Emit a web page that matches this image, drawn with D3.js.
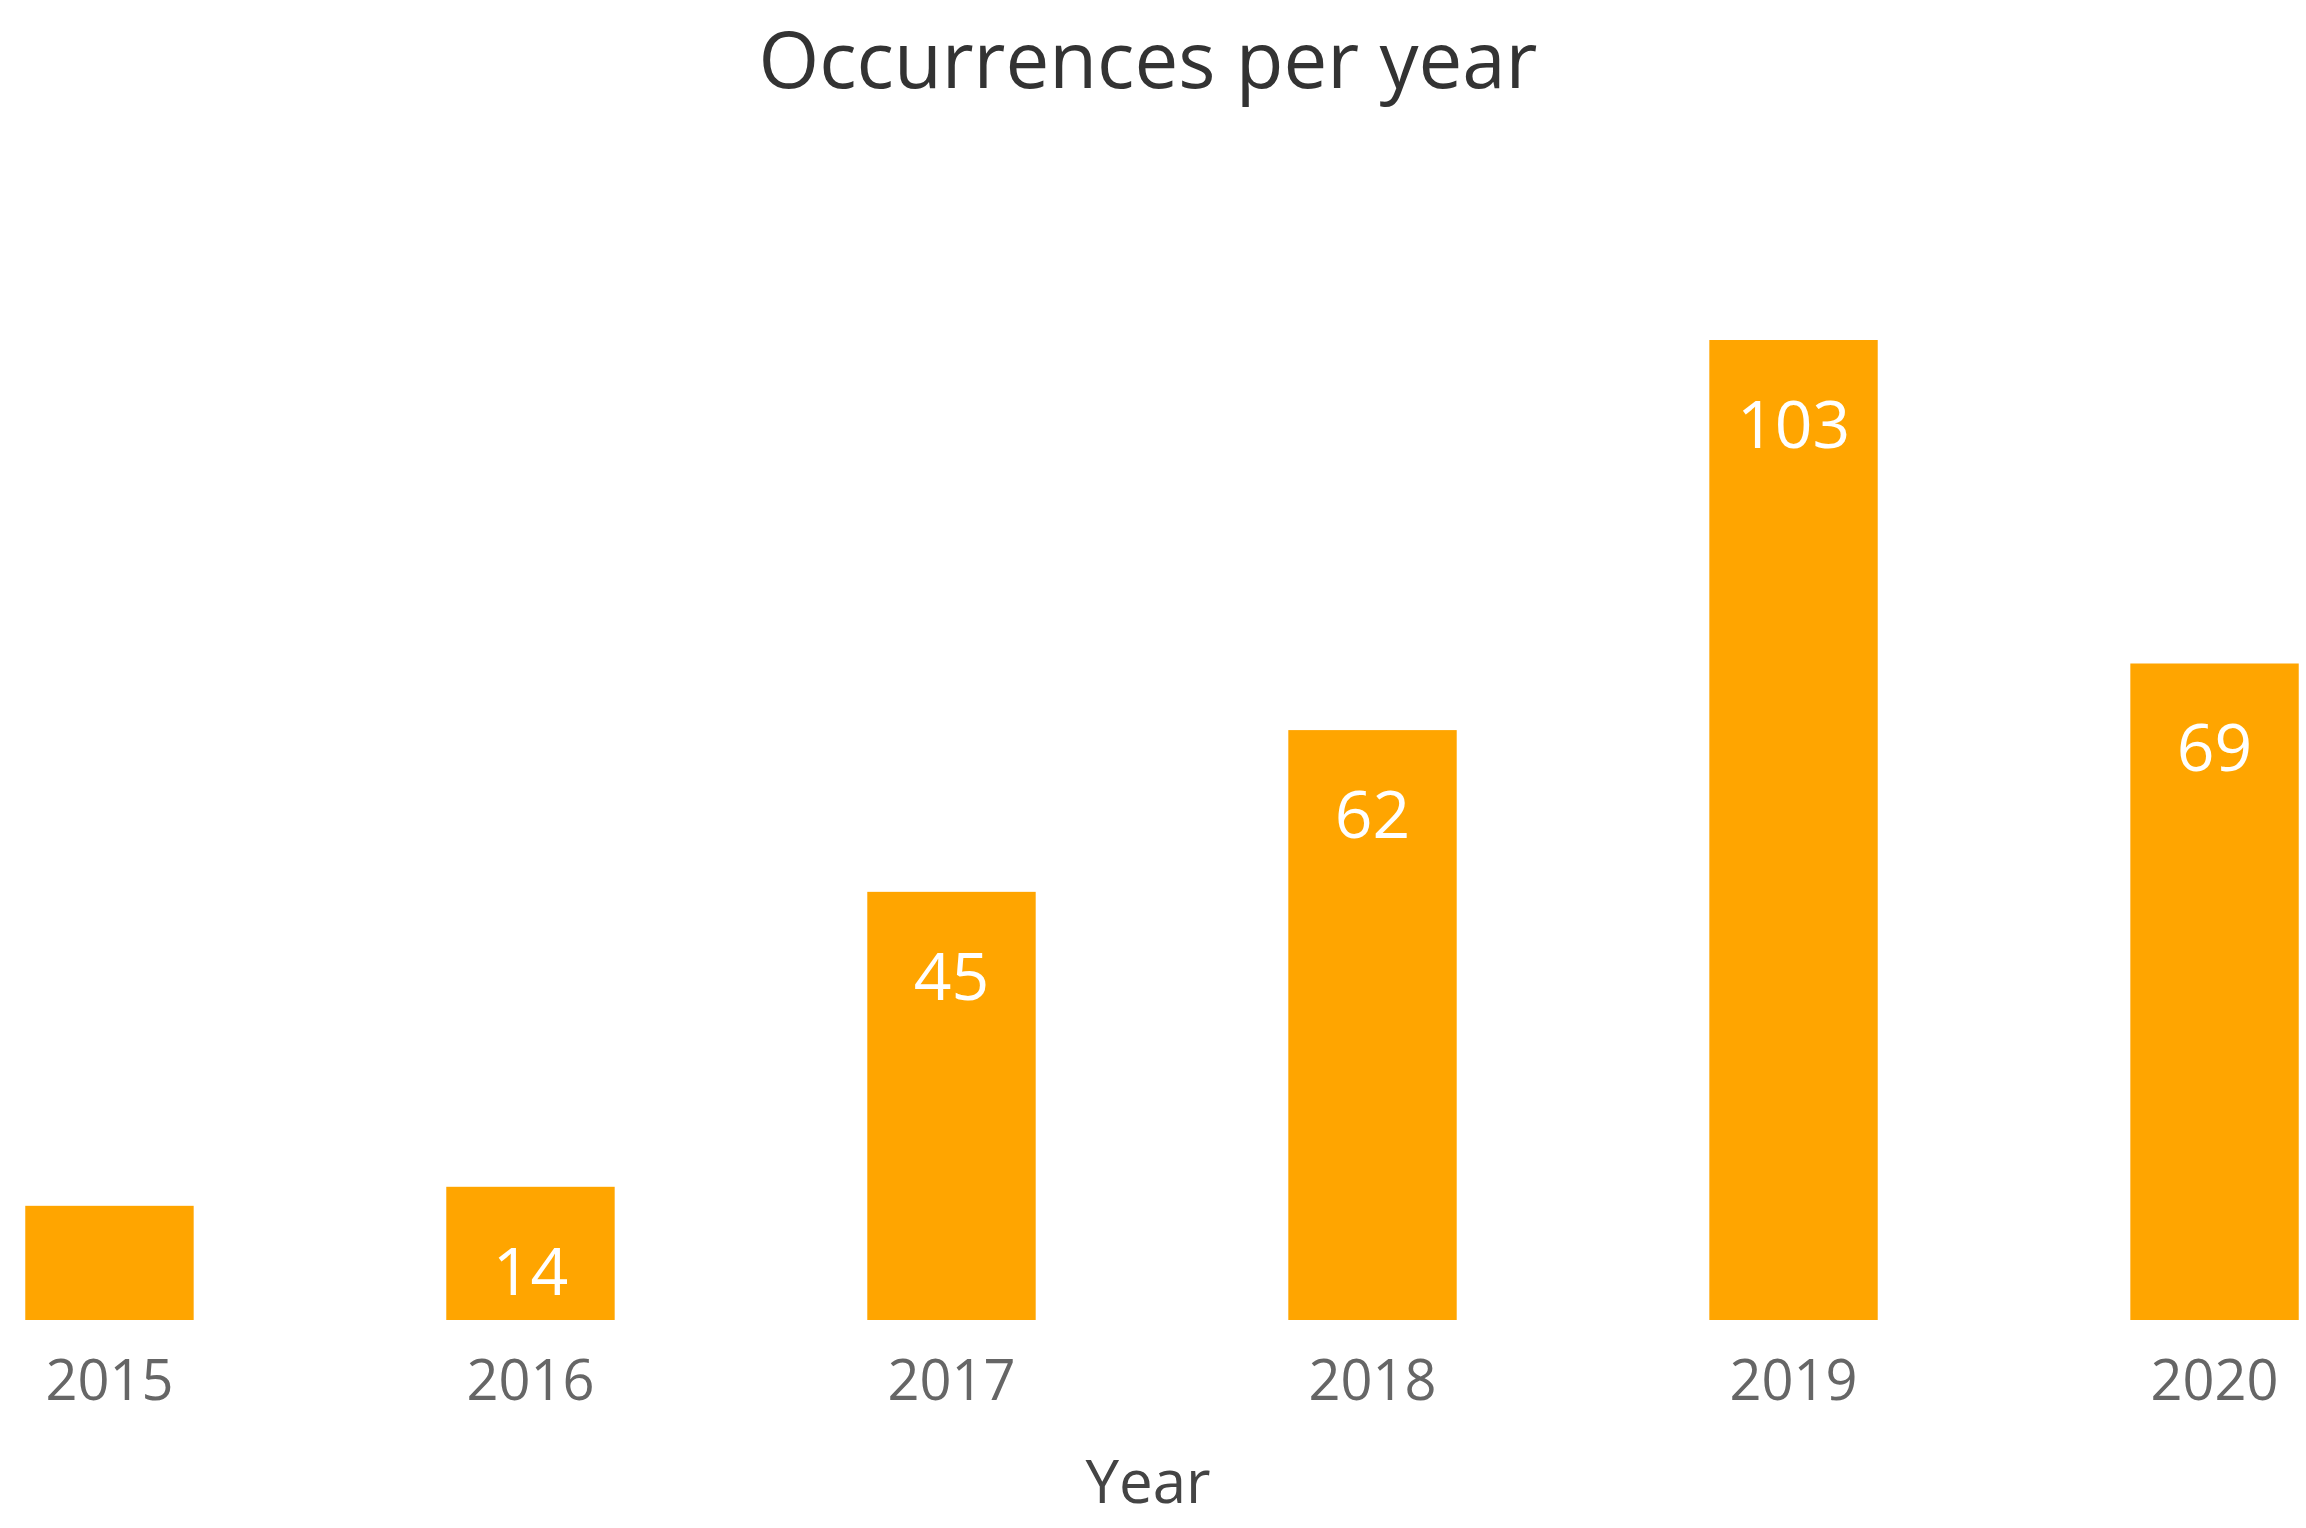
<html>
<head>
<meta charset="UTF-8">
<title>Occurrences per year</title>
<style>
body { margin: 0; background: white; }
text { font-family: "Open Sans", "Noto Sans", sans-serif; }
</style>
<script src="https://cdn.jsdelivr.net/npm/d3@7"></script>
</head>
<body>
<div id="vis"></div>
<script>
const years = ["2015", "2016", "2017", "2018", "2019", "2020"];
const counts = [12, 14, 45, 62, 103, 69];

const width = 2306, height = 1528;
const svg = d3.select("#vis").append("svg")
	.attr("width", width).attr("height", height);

const x = d3.scaleBand().domain(years).range([0, 2306 + 18]).paddingInner(0.6).paddingOuter(0.06);
const y = d3.scaleLinear().domain([0, 103]).range([1320, 340]);

svg.append("text")
	.attr("x", 1148).attr("y", 88)
	.attr("text-anchor", "middle")
	.attr("fill", "#333").attr("font-size", 78)
	.text("Occurrences per year");

svg.selectAll("rect.bar").data(counts).enter().append("rect")
	.attr("class", "bar")
	.attr("x", (d, i) => x(years[i]))
	.attr("width", x.bandwidth())
	.attr("y", d => y(d))
	.attr("height", d => y(0) - y(d))
	.attr("fill", "#FFA500");

svg.selectAll("text.val").data(counts).enter().append("text")
	.attr("class", "val")
	.filter(d => d >= 13)
	.attr("x", (d, i) => x(years[counts.indexOf(d)]) + x.bandwidth() / 2)
	.attr("y", d => y(d) + 108)
	.attr("text-anchor", "middle")
	.attr("fill", "white").attr("font-size", 66)
	.text(d => d);

const axis = svg.append("g")
	.attr("transform", "translate(0,1320)")
	.call(d3.axisBottom(x).tickSize(0).tickPadding(40));
axis.select(".domain").remove();
axis.selectAll("text").attr("font-size", 56).attr("fill", "#666")
	.attr("font-family", "\"Open Sans\", sans-serif");

svg.append("text")
	.attr("x", 1148).attr("y", 1503)
	.attr("text-anchor", "middle")
	.attr("fill", "#444").attr("font-size", 60)
	.text("Year");
</script>
</body>
</html>
